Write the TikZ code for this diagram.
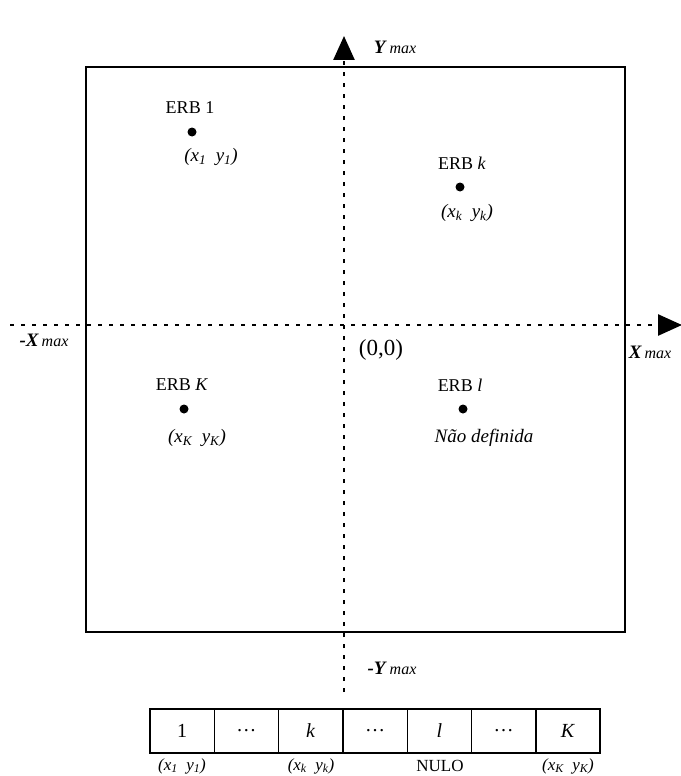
\documentclass[tikz,border=0pt]{standalone}
\usepackage{fontspec}
\setmainfont{Liberation Serif}
\usetikzlibrary{arrows.meta}
% coordinate pair in italics with subscripts
\newcommand{\cpair}[1]{\textit{(x\textsubscript{#1}\ \ y\textsubscript{#1})}}
\newcommand{\axlbl}[1]{{\fontsize{19}{21}\selectfont\textbf{\textit{#1}}}\,{\itshape max}}
\begin{document}
\begin{tikzpicture}[x=1pt,y=-1pt,font=\fontsize{18}{20}\selectfont,
  axis/.style={line width=2.6pt,dash pattern=on 4pt off 7pt,
    -{Triangle[length=24pt,width=21pt]}},
  frame/.style={line width=2.4pt},
  station/.style={circle,fill=black,inner sep=0pt,minimum size=9pt},
  lbl/.style={inner sep=1pt},
  coord/.style={lbl,font=\fontsize{19}{21}\selectfont},
  axtxt/.style={lbl,font=\fontsize{16}{18}\selectfont},
  cell/.style={draw,line width=1.4pt,minimum width=64.3pt,minimum height=44pt,
    inner sep=0pt,outer sep=0pt,font=\fontsize{20}{22}\selectfont},
  tablbl/.style={lbl,inner sep=0pt,font=\fontsize{17}{19}\selectfont}]
\useasboundingbox (0,0) rectangle (680,776);
% outer region
\draw[frame] (86,67) rectangle (625,632);
% axes
\coordinate (ybot) at (344,692);
\coordinate (ytop) at (344,36);
\coordinate (xl) at (10,325);
\coordinate (xr) at (682,325);
\draw[axis] (ybot) -- (ytop);
\draw[axis] (xl) -- (xr);
\node[axtxt] (ymax) at (395,47) {\axlbl{Y}};
\node[axtxt] (ymin) at (392,668) {\axlbl{-Y}};
\node[axtxt] (xmin) at (44,340) {\axlbl{-X}};
\node[axtxt] (xmax) at (650,352) {\axlbl{X}};
\node[lbl,font=\fontsize{23}{25}\selectfont] (origin) at (381,350) {(0,0)};
% base stations
\node[station] (s1) at (192,132) {};
\node[lbl] (s1n) at (190,108) {ERB 1};
\node[coord] (s1c) at (211,157) {\cpair{1}};
\node[station] (sk) at (460,187) {};
\node[lbl] (skn) at (462,163) {ERB \textit{k}};
\node[coord] (skc) at (467,213) {\cpair{k}};
\node[station] (sK) at (184,409) {};
\node[lbl] (sKn) at (182,385) {ERB \textit{K}};
\node[coord] (sKc) at (197,438) {\cpair{K}};
\node[station] (sl) at (463,409) {};
\node[lbl] (sln) at (460,385) {ERB \textit{l}};
\node[coord] (slc) at (484,438) {\textit{Não definida}};
% table of stations
\node[cell,anchor=north west] (c1) at (150,709) {1};
\node[cell,anchor=west] (c2) at (c1.east) {\dots};
\node[cell,anchor=west] (c3) at (c2.east) {\textit{k}};
\node[cell,anchor=west] (c4) at (c3.east) {\dots};
\node[cell,anchor=west] (c5) at (c4.east) {\textit{l}};
\node[cell,anchor=west] (c6) at (c5.east) {\dots};
\node[cell,anchor=west] (c7) at (c6.east) {\textit{K}};
\node[tablbl] (t1) at (182,766) {\cpair{1}};
\node[tablbl] (t3) at (311,766) {\cpair{k}};
\node[tablbl] (t5) at (440,766) {NULO};
\node[tablbl] (t7) at (568,766) {\cpair{K}};
\end{tikzpicture}
\end{document}
